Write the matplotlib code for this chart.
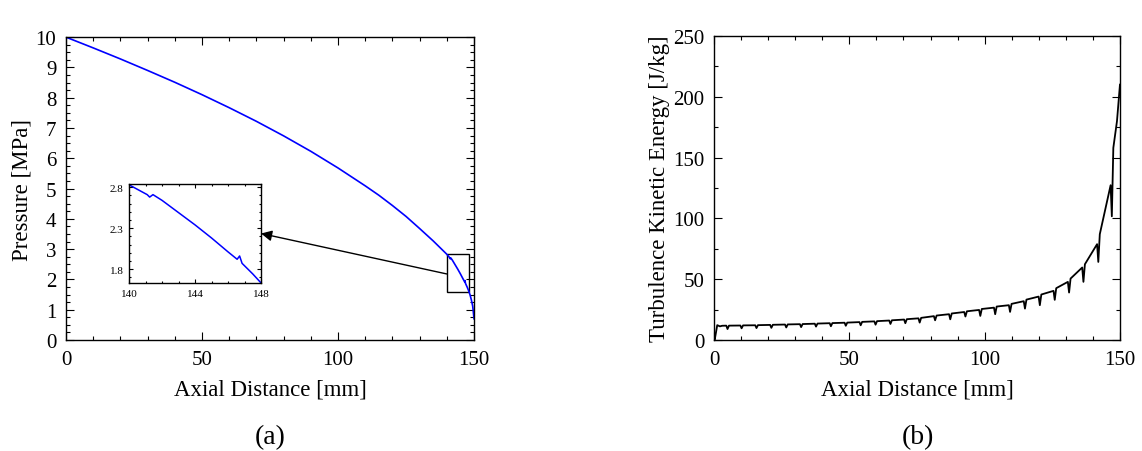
import numpy as np
import matplotlib.pyplot as plt
from matplotlib.ticker import MultipleLocator
from matplotlib.patches import Rectangle

plt.rcParams['font.family'] = ['Liberation Serif', 'DejaVu Serif']

# (a) pressure along the axis
x_p = [0, 10, 20, 30, 40, 50, 60, 70, 80, 90, 100, 110, 115, 120, 125, 130,
       135, 140, 141.1, 141.25, 141.45, 142, 143, 144, 145, 146, 146.55,
       146.7, 146.85, 147, 147.5, 148, 148.5, 149, 149.5, 150]
pressure = [10, 9.645, 9.28, 8.9, 8.51, 8.1, 7.67, 7.22, 6.74, 6.23, 5.68,
            5.09, 4.78, 4.44, 4.08, 3.68, 3.27, 2.83, 2.71, 2.68, 2.71, 2.64,
            2.49, 2.34, 2.18, 2.01, 1.92, 1.96, 1.87, 1.84, 1.74, 1.63, 1.5,
            1.33, 1.12, 0.7]

# (b) turbulence kinetic energy: start, dips (peak / bottom / recovery), end
k_start_x = [0, 0.3, 1.2, 2.2, 3.0]
k_start = [5.0, 0.5, 12.2, 11.2, 11.7]
dip_x = [5.0, 10.2, 15.7, 21.2, 26.7, 32.2, 37.7, 43.2, 48.7, 54.2, 59.7,
         65.2, 70.7, 76.0, 81.7, 87.3, 92.9, 98.4, 103.9, 109.4, 114.9,
         120.4, 125.9, 131.2, 136.5, 142.0, 147.0]
k_peak = [11.8, 11.9, 12.1, 12.4, 12.7, 13.0, 13.4, 13.8, 14.2, 14.7, 15.3,
          16.0, 16.8, 17.8, 19.6, 21.2, 23.0, 24.7, 26.6, 28.6, 31.9, 35.7,
          40.4, 47.8, 59.6, 78.8, 127.3]
k_dip = [9.0, 9.6, 9.8, 10.0, 10.3, 10.6, 11.0, 11.3, 11.7, 12.1, 12.6, 13.2,
         13.8, 14.3, 16.2, 17.0, 19.3, 19.8, 21.2, 23.1, 25.8, 28.6, 33.0,
         39.0, 47.8, 64.2, 101.7]
k_rec = [11.8, 12.0, 12.2, 12.5, 12.8, 13.1, 13.5, 13.9, 14.3, 14.9, 15.5,
         16.2, 17.1, 18.2, 20.1, 21.8, 23.6, 25.5, 27.5, 29.7, 33.2, 37.4,
         42.6, 50.5, 62.3, 87.0, 158.0]
k_end_x = [148.9, 150]
k_end = [180.0, 210.0]

x_k = list(k_start_x)
tke = list(k_start)
for d, a, b, c in zip(dip_x, k_peak, k_dip, k_rec):
    x_k += [d - 0.45, d, d + 0.55]
    tke += [a, b, c]
x_k += k_end_x
tke += k_end

fig = plt.figure(figsize=(11.42, 4.52), dpi=100)

def style(ax, size=15, major=6, minor=3, pad=7):
    ax.tick_params(which='both', direction='in', top=True, right=True,
                   labelsize=size, width=0.8, pad=pad)
    ax.tick_params(which='major', length=major)
    ax.tick_params(which='minor', length=minor)
    for s in ax.spines.values():
        s.set_linewidth(1.0)

ax1 = fig.add_axes([0.0578, 0.2456, 0.3573, 0.670])
ax1.plot(x_p, pressure, color='#0000ff', lw=1.2)
ax1.set_xlim(0, 150)
ax1.set_ylim(0, 10)
ax1.xaxis.set_major_locator(MultipleLocator(50))
ax1.xaxis.set_minor_locator(MultipleLocator(10))
ax1.yaxis.set_major_locator(MultipleLocator(1))
ax1.yaxis.set_minor_locator(MultipleLocator(0.25))
style(ax1)
ax1.set_xlabel('Axial Distance [mm]', fontsize=16.5, labelpad=7)
ax1.set_ylabel('Pressure [MPa]', fontsize=16.5, labelpad=2)
ax1.add_patch(Rectangle((140, 1.6), 8, 1.23, fill=False, ec='black', lw=1.0))

ins = fig.add_axes([0.113, 0.3717, 0.1156, 0.219])
ins.plot(x_p, pressure, color='#0000ff', lw=1.1)
ins.set_xlim(140, 148)
ins.set_ylim(1.63, 2.84)
ins.set_xticks([140, 144, 148])
ins.set_yticks([1.8, 2.3, 2.8])
ins.xaxis.set_minor_locator(MultipleLocator(1))
ins.yaxis.set_minor_locator(MultipleLocator(0.1))
style(ins, size=8, major=3, minor=1.5, pad=4)
ins.set_xticklabels(['140', '144', '148'])
ins.set_yticklabels(['1.8', '2.3', '2.8'])

ax1.annotate('', xy=(1.0, 0.5), xycoords=ins.transAxes,
             xytext=(140, 2.18), textcoords='data',
             arrowprops=dict(arrowstyle='-|>', color='black', lw=1.0,
                             mutation_scale=16, shrinkA=0, shrinkB=0))

ax2 = fig.add_axes([0.6252, 0.2456, 0.3555, 0.6726])
ax2.plot(x_k, tke, color='black', lw=1.3)
ax2.set_xlim(0, 150)
ax2.set_ylim(0, 250)
ax2.xaxis.set_major_locator(MultipleLocator(50))
ax2.xaxis.set_minor_locator(MultipleLocator(10))
ax2.yaxis.set_major_locator(MultipleLocator(50))
ax2.yaxis.set_minor_locator(MultipleLocator(25))
style(ax2)
ax2.set_xlabel('Axial Distance [mm]', fontsize=16.5, labelpad=7)
ax2.set_ylabel('Turbulence Kinetic Energy [J/kg]', fontsize=16.5, labelpad=2)

fig.text(0.2365, 0.031, '(a)', fontsize=20, ha='center', va='center')
fig.text(0.8035, 0.031, '(b)', fontsize=20, ha='center', va='center')

fig.savefig('out.png', dpi=100)
